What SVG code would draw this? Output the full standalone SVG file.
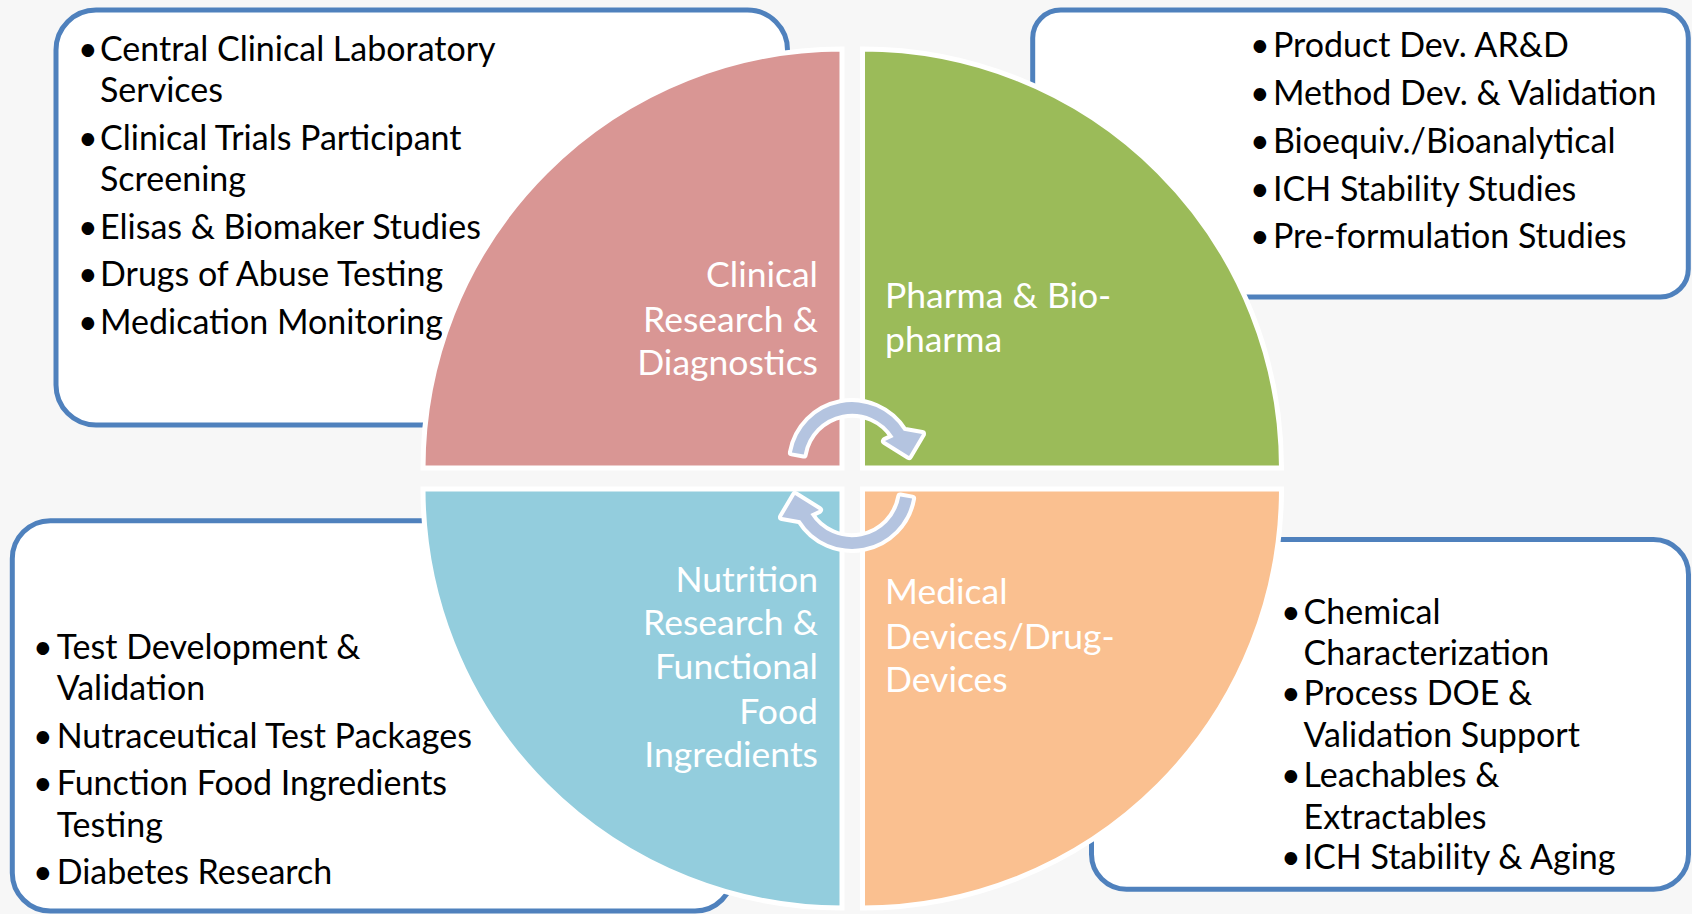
<svg xmlns="http://www.w3.org/2000/svg" width="1692" height="914" viewBox="0 0 1692 914">
<style>
.box{fill:#ffffff;stroke:#4f81bd;stroke-width:5}
.quad{stroke:#ffffff;stroke-width:5}
.item{font-family:Lato,"Liberation Sans",sans-serif;font-size:34px;fill:#000000}
.lbl{font-family:Lato,"Liberation Sans",sans-serif;font-size:35.5px;fill:#ffffff}
.arrow{fill:#b4c4e0;stroke:#ffffff;stroke-width:8;stroke-linejoin:round;paint-order:stroke}
</style>
<rect x="0" y="0" width="1692" height="914" fill="#f7f7f7"/>
<g id="box-clinical">
<rect class="box" x="56" y="10" width="731.5" height="415" rx="40"/>
<text class="item"><tspan x="78" y="61">•</tspan><tspan x="100" y="61">Central Clinical Laboratory</tspan></text>
<text class="item" x="100" y="101.5">Services</text>
<text class="item"><tspan x="78" y="150">•</tspan><tspan x="100" y="150">Clinical Trials Participant</tspan></text>
<text class="item" x="100" y="190.5">Screening</text>
<text class="item"><tspan x="78" y="238.5">•</tspan><tspan x="100" y="238.5">Elisas &amp; Biomaker Studies</tspan></text>
<text class="item"><tspan x="78" y="286">•</tspan><tspan x="100" y="286">Drugs of Abuse Testing</tspan></text>
<text class="item"><tspan x="78" y="333.5">•</tspan><tspan x="100" y="333.5">Medication Monitoring</tspan></text>
</g>
<g id="box-pharma">
<rect class="box" x="1032.7" y="10" width="655.6" height="287" rx="28"/>
<text class="item"><tspan x="1250" y="57.3">•</tspan><tspan x="1273" y="57.3">Product Dev. AR&amp;D</tspan></text>
<text class="item"><tspan x="1250" y="105">•</tspan><tspan x="1273" y="105">Method Dev. &amp; Validation</tspan></text>
<text class="item"><tspan x="1250" y="153.3">•</tspan><tspan x="1273" y="153.3">Bioequiv./Bioanalytical</tspan></text>
<text class="item"><tspan x="1250" y="200.7">•</tspan><tspan x="1273" y="200.7">ICH Stability Studies</tspan></text>
<text class="item"><tspan x="1250" y="248.3">•</tspan><tspan x="1273" y="248.3">Pre-formulation Studies</tspan></text>
</g>
<g id="box-nutrition">
<rect class="box" x="12.3" y="520.7" width="720.7" height="390.3" rx="38"/>
<text class="item"><tspan x="33" y="658.7">•</tspan><tspan x="56.7" y="658.7">Test Development &amp;</tspan></text>
<text class="item" x="56.7" y="700.3">Validation</text>
<text class="item"><tspan x="33" y="747.7">•</tspan><tspan x="56.7" y="747.7">Nutraceutical Test Packages</tspan></text>
<text class="item"><tspan x="33" y="795.3">•</tspan><tspan x="56.7" y="795.3">Function Food Ingredients</tspan></text>
<text class="item" x="56.7" y="837">Testing</text>
<text class="item"><tspan x="33" y="883.7">•</tspan><tspan x="56.7" y="883.7">Diabetes Research</tspan></text>
</g>
<g id="box-medical">
<rect class="box" x="1091.5" y="539.5" width="597" height="349.8" rx="35"/>
<text class="item"><tspan x="1281" y="623.7">•</tspan><tspan x="1303.6" y="623.7">Chemical</tspan></text>
<text class="item" x="1303.6" y="665.3">Characterization</text>
<text class="item"><tspan x="1281" y="705.3">•</tspan><tspan x="1303.6" y="705.3">Process DOE &amp;</tspan></text>
<text class="item" x="1303.6" y="747">Validation Support</text>
<text class="item"><tspan x="1281" y="787">•</tspan><tspan x="1303.6" y="787">Leachables &amp;</tspan></text>
<text class="item" x="1303.6" y="828.7">Extractables</text>
<text class="item"><tspan x="1281" y="868.7">•</tspan><tspan x="1303.6" y="868.7">ICH Stability &amp; Aging</tspan></text>
</g>
<g id="quad-clinical">
<path class="quad" fill="#d99694" d="M842 468 L423 468 A419 419 0 0 1 842 49 Z"/>
<text class="lbl" text-anchor="end"><tspan x="818" y="286.7">Clinical</tspan><tspan x="818" y="331.7">Research &amp;</tspan><tspan x="818" y="375">Diagnostics</tspan></text>
</g>
<g id="quad-pharma">
<path class="quad" fill="#9bbb59" d="M862.5 468 L862.5 49 A419 419 0 0 1 1281.5 468 Z"/>
<text class="lbl"><tspan x="885" y="308.3">Pharma &amp; Bio-</tspan><tspan x="885" y="352.3">pharma</tspan></text>
</g>
<g id="quad-nutrition">
<path class="quad" fill="#93cddd" d="M842 489 L842 908 A419 419 0 0 1 423 489 Z"/>
<text class="lbl" text-anchor="end"><tspan x="818" y="592">Nutrition</tspan><tspan x="818" y="635.3">Research &amp;</tspan><tspan x="818" y="678.7">Functional</tspan><tspan x="818" y="723.7">Food</tspan><tspan x="818" y="767">Ingredients</tspan></text>
</g>
<g id="quad-medical">
<path class="quad" fill="#fac090" d="M862.5 489 L1281.5 489 A419 419 0 0 1 862.5 908 Z"/>
<text class="lbl"><tspan x="885" y="603.7">Medical</tspan><tspan x="885" y="648.7">Devices/Drug-</tspan><tspan x="885" y="692">Devices</tspan></text>
</g>
<g id="connectors">
<path id="arrow-top" class="arrow" d="M791.9 452.4 A61 61 0 0 1 903.7 430.7 L922 434 L909 456 L885 441 L893.6 437 A49 49 0 0 0 803.7 454.5 Z"/>
<path id="arrow-bottom" class="arrow" transform="rotate(180 852 475.5)" d="M791.9 452.4 A61 61 0 0 1 903.7 430.7 L922 434 L909 456 L885 441 L893.6 437 A49 49 0 0 0 803.7 454.5 Z"/>
</g>
</svg>
